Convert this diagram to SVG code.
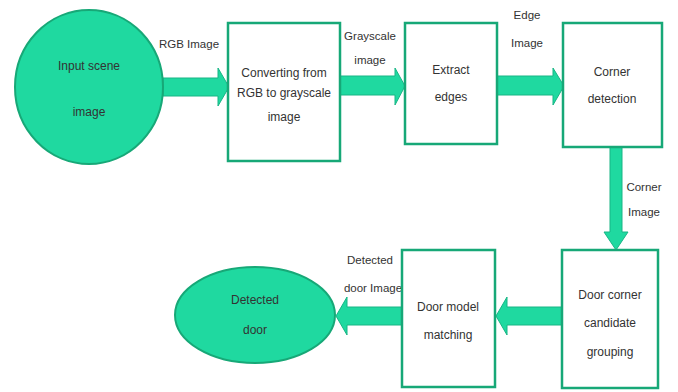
<svg xmlns="http://www.w3.org/2000/svg" width="678" height="392" viewBox="0 0 678 392">
<style>
.term{fill:#1fd9a0;stroke:#17a877;stroke-width:2}
.box{fill:#ffffff;stroke:#17a877;stroke-width:2.5}
.arr{fill:#1fd9a0;stroke:#18b585;stroke-width:1}
text{font-family:"Liberation Sans Narrow","Liberation Sans",Arial,sans-serif;font-size:12px;fill:#333333;text-anchor:middle}
.lbl{font-size:11.5px}
</style>
<rect width="678" height="392" fill="#ffffff"/>
<g id="connectors">
<path class="arr" d="M163,78 H218 V68 L229,87 L218,106 V96 H163 Z"/>
<path class="arr" d="M340,76 H395 V68 L405,86 L395,105 V95 H340 Z"/>
<path class="arr" d="M497,76 H553 V68 L564,86 L553,105 V95 H497 Z"/>
<path class="arr" d="M610,147 H622 V232 H628 L616,250 L604,232 H610 Z"/>
<path class="arr" d="M562,307 H507 V297 L496,316 L507,335 V325 H562 Z"/>
<path class="arr" d="M402,307 H347 V297 L336,316 L347,335 V325 H402 Z"/>
<text class="lbl" x="189" y="48">RGB Image</text>
<text class="lbl" x="370" y="40">Grayscale</text>
<text class="lbl" x="370" y="64">image</text>
<text class="lbl" x="527" y="19">Edge</text>
<text class="lbl" x="527" y="47">Image</text>
<text class="lbl" x="644" y="191">Corner</text>
<text class="lbl" x="644" y="216">Image</text>
<text class="lbl" x="370" y="264">Detected</text>
<text class="lbl" x="373" y="292">door Image</text>
</g>
<g id="input">
<ellipse class="term" cx="89" cy="87" rx="74" ry="77"/>
<text x="89" y="70">Input scene</text>
<text x="89" y="116">image</text>
</g>
<g id="convert">
<rect class="box" x="228" y="23" width="112" height="138"/>
<text x="284" y="77">Converting from</text>
<text x="284" y="97">RGB to grayscale</text>
<text x="284" y="121">image</text>
</g>
<g id="extract">
<rect class="box" x="405" y="23" width="92" height="121"/>
<text x="451" y="74">Extract</text>
<text x="451" y="101">edges</text>
</g>
<g id="corner">
<rect class="box" x="563" y="23" width="99" height="124"/>
<text x="612" y="76">Corner</text>
<text x="612" y="103">detection</text>
</g>
<g id="grouping">
<rect class="box" x="562" y="250" width="96" height="138"/>
<text x="610" y="299">Door corner</text>
<text x="610" y="327">candidate</text>
<text x="610" y="356">grouping</text>
</g>
<g id="matching">
<rect class="box" x="402" y="250" width="93" height="137"/>
<text x="448" y="311">Door model</text>
<text x="448" y="339">matching</text>
</g>
<g id="detected">
<ellipse class="term" cx="255" cy="315" rx="80" ry="48"/>
<text x="255" y="304">Detected</text>
<text x="255" y="334">door</text>
</g>
</svg>
